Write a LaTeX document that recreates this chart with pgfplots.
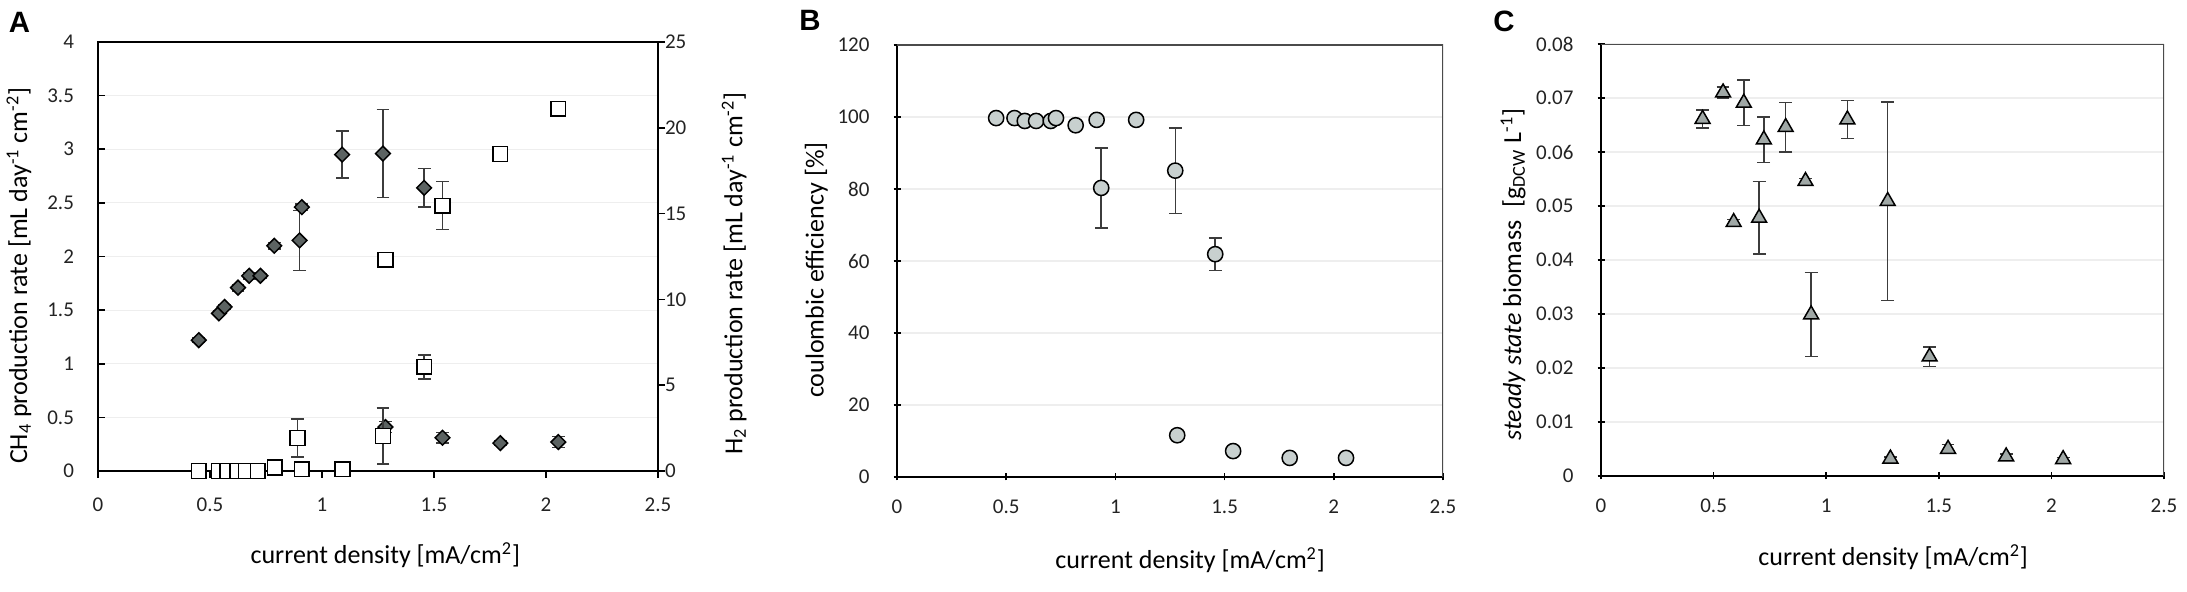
\documentclass[border=0pt]{standalone}
\usepackage{fontspec}
\setmainfont{Carlito}
\newfontfamily\letterfont{Liberation Sans}
\usepackage{pgfplots}
\pgfplotsset{compat=1.18}

\definecolor{diamfill}{RGB}{92,99,98}
\definecolor{circfill}{RGB}{200,208,207}
\definecolor{trifill}{RGB}{160,168,166}
\definecolor{errc}{RGB}{60,60,60}
\definecolor{gridc}{RGB}{238,238,238}
\definecolor{framec}{RGB}{75,75,75}
\definecolor{tickc}{RGB}{35,35,35}

\pgfplotsset{
  panel/.style={
    scale only axis,
    xmin=0, xmax=2.5,
    xtick={0,0.5,1,1.5,2,2.5},
    xticklabels={0,0.5,1,1.5,2,2.5},
    scaled y ticks=false,
    /pgf/number format/assume math mode=true,
    ymajorgrids,
    major grid style={gridc, line width=0.6pt},
    axis line style={black, line width=0.8pt},
    major tick length=3.5pt,
    every tick/.style={black, line width=0.8pt},
    xtick align=outside,
    ytick align=inside,
    tick label style={font=\fontsize{10.5}{12}\selectfont, color=tickc},
    xticklabel style={yshift=-6.4pt},
    yticklabel style={xshift=-8.5pt},
    label style={font=\fontsize{13}{15}\selectfont},
    error bars/y dir=both,
    error bars/y explicit,
    error bars/error bar style={errc, line width=0.75pt},
    error bars/error mark options={rotate=90, errc, mark size=3.2pt, line width=0.75pt},
  },
}

\begin{document}
\begin{tikzpicture}
\useasboundingbox (0,0) rectangle (1093.5pt,296pt);

% ---------------- Panel A ----------------
\begin{axis}[panel,
  at={(49pt,60.5pt)}, anchor=south west,
  width=280pt, height=214.5pt,
  ymin=0, ymax=4,
  ytick={0,0.5,1,1.5,2,2.5,3,3.5,4},
  yticklabels={0,0.5,1,1.5,2,2.5,3,3.5,4},
  xtick pos=bottom, ytick pos=left,
  xlabel={current density [mA/cm\textsuperscript{2}]},
  ylabel={CH\textsubscript{4} production rate [mL day\textsuperscript{-1} cm\textsuperscript{-2}]},
  xlabel style={at={(axis description cs:0.513,-0.196)}, anchor=center},
  ylabel style={at={(axis description cs:-0.141,0.455)}, anchor=center},
]
\addplot+[only marks, mark=square*, mark size=2.6pt,
  mark options={rotate=45, fill=diamfill, draw=black, line width=0.75pt}]
coordinates {
(0.45,1.22) +- (0,0.02)
(0.54,1.47) +- (0,0.02)
(0.565,1.53) +- (0,0.02)
(0.625,1.71) +- (0,0.03)
(0.675,1.82) +- (0,0.03)
(0.725,1.82) +- (0,0.02)
(0.787,2.10) +- (0,0.03)
(0.90,2.15) +- (0,0.28)
(0.91,2.46) +- (0,0.03)
(1.09,2.95) +- (0,0.22)
(1.272,2.96) +- (0,0.41)
(1.283,0.41) +- (0,0.05)
(1.456,2.64) +- (0,0.18)
(1.538,0.31) +- (0,0.05)
(1.796,0.26) +- (0,0.02)
(2.055,0.27) +- (0,0.05)
};
\end{axis}

\begin{axis}[panel,
  at={(49pt,60.5pt)}, anchor=south west,
  width=280pt, height=214.5pt,
  axis x line=none, axis y line*=right,
  ymajorgrids=false,
  ytick align=outside,
  yticklabel style={xshift=5pt},
  ymin=0, ymax=25,
  ytick={0,5,10,15,20,25},
  ylabel={H\textsubscript{2} production rate [mL day\textsuperscript{-1} cm\textsuperscript{-2}]},
  ylabel style={at={(axis description cs:1.136,0.46)}, anchor=center},
]
\addplot+[only marks, mark=square*, mark size=3.7pt,
  mark options={fill=white, draw=black, line width=0.75pt}]
coordinates {
(0.45,0) +- (0,0.05)
(0.54,0) +- (0,0.05)
(0.578,0) +- (0,0.05)
(0.622,0) +- (0,0.05)
(0.66,0) +- (0,0.05)
(0.713,0) +- (0,0.05)
(0.789,0.2) +- (0,0.1)
(0.89,1.93) +- (0,1.1)
(0.91,0.1) +- (0,0.05)
(1.092,0.1) +- (0,0.05)
(1.272,2.04) +- (0,1.63)
(1.283,12.31) +- (0,0.3)
(1.456,6.07) +- (0,0.7)
(1.538,15.46) +- (0,1.4)
(1.796,18.47) +- (0,0.3)
(2.055,21.11) +- (0,0.4)
};
\end{axis}

% ---------------- Panel B ----------------
\begin{axis}[panel,
  at={(448.5pt,57.5pt)}, anchor=south west,
  width=273pt, height=216pt,
  axis lines=left, axis line style={-, black, line width=0.8pt},
  ymin=0, ymax=120,
  ytick={0,20,40,60,80,100,120},
  xlabel={current density [mA/cm\textsuperscript{2}]},
  ylabel={coulombic efficiency [\%]},
  xlabel style={at={(axis description cs:0.537,-0.192)}, anchor=center},
  ylabel style={at={(axis description cs:-0.148,0.479)}, anchor=center},
]
\draw[framec, line width=0.8pt] (rel axis cs:0,1) -- (rel axis cs:1,1) -- (rel axis cs:1,0);
\addplot+[only marks, mark=*, mark size=3.8pt,
  mark options={fill=circfill, draw=black, line width=0.75pt}]
coordinates {
(0.454,99.7) +- (0,0.5)
(0.538,99.7) +- (0,0.5)
(0.585,98.9) +- (0,0.5)
(0.637,98.9) +- (0,0.8)
(0.704,98.9) +- (0,0.5)
(0.728,99.7) +- (0,0.5)
(0.818,97.7) +- (0,1.0)
(0.914,99.2) +- (0,0.5)
(0.935,80.3) +- (0,11.1)
(1.095,99.2) +- (0,0.5)
(1.274,85.1) +- (0,11.9)
(1.283,11.6) +- (0,1.0)
(1.457,61.9) +- (0,4.5)
(1.539,7.2) +- (0,1.0)
(1.798,5.3) +- (0,1.0)
(2.056,5.3) +- (0,1.0)
};
\end{axis}

% ---------------- Panel C ----------------
\begin{axis}[panel,
  at={(800.5pt,58pt)}, anchor=south west,
  width=281.5pt, height=216pt,
  axis lines=left, axis line style={-, black, line width=0.8pt},
  ymin=0, ymax=0.08,
  ytick={0,0.01,0.02,0.03,0.04,0.05,0.06,0.07,0.08},
  yticklabels={0,0.01,0.02,0.03,0.04,0.05,0.06,0.07,0.08},
  xlabel={current density [mA/cm\textsuperscript{2}]},
  ylabel={\textit{steady state} biomass\enspace[g\textsubscript{DCW} L\textsuperscript{-1}]},
  xlabel style={at={(axis description cs:0.519,-0.1875)}, anchor=center},
  ylabel style={at={(axis description cs:-0.156,0.466)}, anchor=center},
]
\draw[framec, line width=0.8pt] (rel axis cs:0,1) -- (rel axis cs:1,1) -- (rel axis cs:1,0);
\addplot+[only marks, mark=triangle*, mark size=4.3pt,
  mark options={fill=trifill, draw=black, line width=0.75pt}]
coordinates {
(0.451,0.0661) +- (0,0.0017)
(0.542,0.0710) +- (0,0.001)
(0.589,0.0470) +- (0,0.0005)
(0.634,0.0691) +- (0,0.0042)
(0.702,0.0478) +- (0,0.0067)
(0.723,0.0623) +- (0,0.0042)
(0.820,0.0646) +- (0,0.0046)
(0.908,0.0546) +- (0,0.0005)
(0.933,0.0299) +- (0,0.0078)
(1.094,0.0660) +- (0,0.0035)
(1.273,0.0509) +- (0,0.0184)
(1.285,0.0032) +- (0,0.0003)
(1.459,0.0221) +- (0,0.0018)
(1.541,0.0050) +- (0,0.0008)
(1.799,0.0036) +- (0,0.0005)
(2.052,0.0031) +- (0,0.0003)
};
\end{axis}

% panel letters
\node[font=\letterfont\bfseries\fontsize{14.7}{16}\selectfont, anchor=center] at (9.75pt,284.75pt) {A};
\node[font=\letterfont\bfseries\fontsize{14.7}{16}\selectfont, anchor=center] at (405pt,285.75pt) {B};
\node[font=\letterfont\bfseries\fontsize{14.7}{16}\selectfont, anchor=center] at (752pt,285.25pt) {C};
\end{tikzpicture}
\end{document}
